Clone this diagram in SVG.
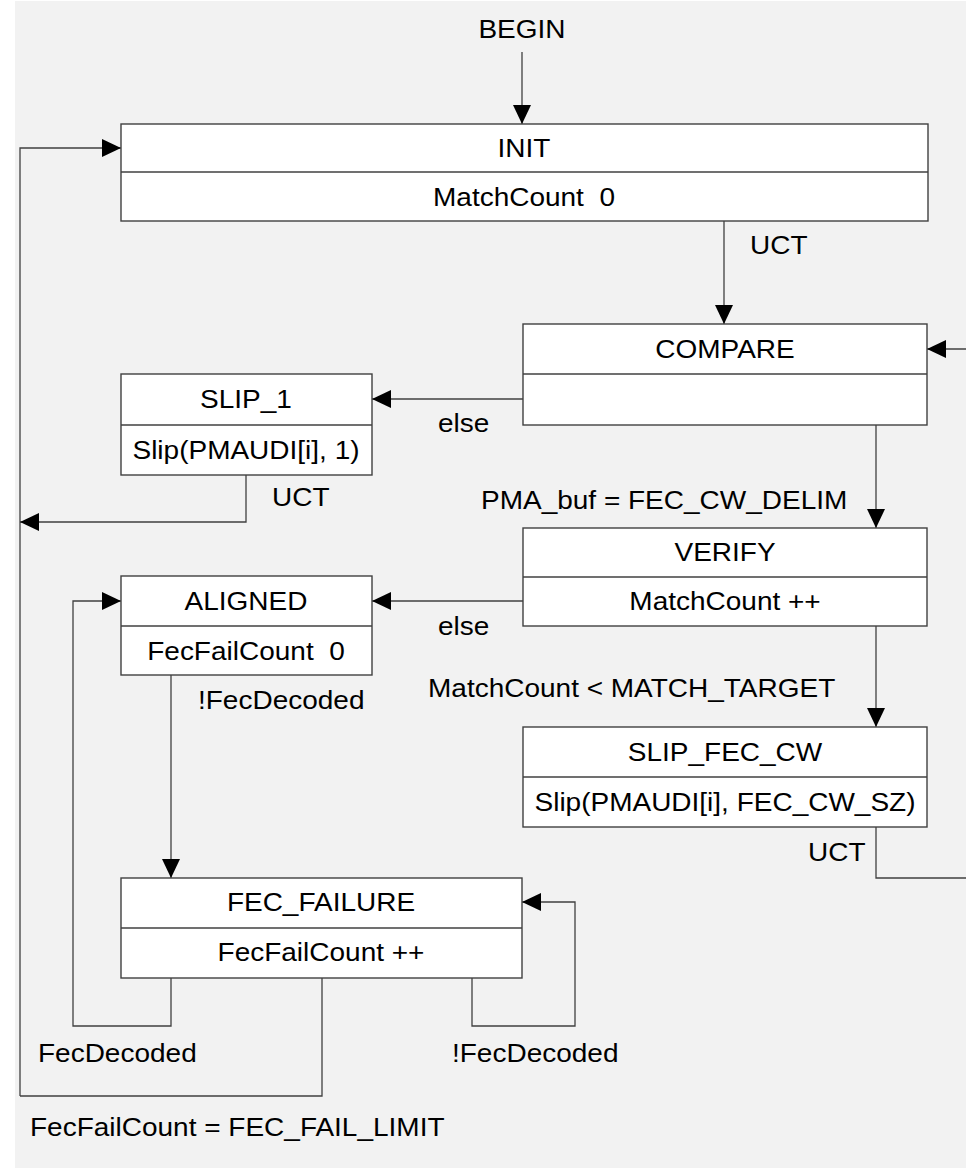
<svg xmlns="http://www.w3.org/2000/svg" width="966" height="1169" viewBox="0 0 966 1169">
<defs>
<style>
.bg{fill:#f2f2f2}
.box{fill:#fff;stroke:#404040;stroke-width:1.4}
.div{stroke:#404040;stroke-width:1.4;fill:none}
.ln{stroke:#404040;stroke-width:1.3;fill:none}
.arr{stroke:#404040;stroke-width:1.3;fill:none;marker-end:url(#ah)}
text{font-family:"Liberation Sans",Arial,sans-serif;font-size:25px;fill:#000}
.c{text-anchor:middle}
.s{text-anchor:start}
</style>
<marker id="ah" markerUnits="userSpaceOnUse" markerWidth="20" markerHeight="18" refX="19" refY="9" orient="auto">
<path d="M0,0 L19,9 L0,18 z" fill="#000"/>
</marker>
</defs>
<rect class="bg" x="15" y="1" width="951" height="1167"/>

<g id="connectors">
<path class="arr" d="M522,52 L522,124"/>
<path class="arr" d="M20,1096 L20,148 L121,148"/>
<path class="arr" d="M724,221 L724,324"/>
<path class="arr" d="M966,349 L927,349"/>
<path class="arr" d="M523,399 L372,399"/>
<path class="arr" d="M246,475 L246,522 L20,522"/>
<path class="arr" d="M876,425 L876,528"/>
<path class="arr" d="M523,601 L372,601"/>
<path class="arr" d="M876,626 L876,727"/>
<path class="ln" d="M876,827 L876,878 L966,878"/>
<path class="arr" d="M171,675 L171,878"/>
<path class="arr" d="M171,978 L171,1026 L73,1026 L73,601 L121,601"/>
<path class="arr" d="M472,978 L472,1026 L575,1026 L575,902 L522,902"/>
<path class="ln" d="M322,978 L322,1096 L20,1096"/>
<text class="c" transform="translate(522,38) scale(1.12,1)">BEGIN</text>
<text class="s" transform="translate(750,254) scale(1.12,1)">UCT</text>
<text class="s" transform="translate(438,432) scale(1.12,1)">else</text>
<text class="s" transform="translate(272,506) scale(1.12,1)">UCT</text>
<text class="s" transform="translate(481,509) scale(1.12,1)">PMA_buf = FEC_CW_DELIM</text>
<text class="s" transform="translate(438,635) scale(1.12,1)">else</text>
<text class="s" transform="translate(428,697) scale(1.12,1)">MatchCount &lt; MATCH_TARGET</text>
<text class="s" transform="translate(198,709) scale(1.12,1)">!FecDecoded</text>
<text class="s" transform="translate(808,861) scale(1.12,1)">UCT</text>
<text class="s" transform="translate(38,1062) scale(1.12,1)">FecDecoded</text>
<text class="s" transform="translate(452,1062) scale(1.12,1)">!FecDecoded</text>
<text class="s" transform="translate(30,1136) scale(1.12,1)">FecFailCount = FEC_FAIL_LIMIT</text>
</g>

<g id="INIT">
<rect class="box" x="121" y="124" width="807" height="97"/>
<path class="div" d="M121,172 L928,172"/>
<text class="c" transform="translate(524,157) scale(1.12,1)">INIT</text>
<text class="c" xml:space="preserve" transform="translate(524,206) scale(1.12,1)">MatchCount  0</text>
</g>

<g id="COMPARE">
<rect class="box" x="523" y="324" width="404" height="101"/>
<path class="div" d="M523,374 L927,374"/>
<text class="c" transform="translate(725,358) scale(1.12,1)">COMPARE</text>
</g>

<g id="SLIP_1">
<rect class="box" x="121" y="374" width="251" height="101"/>
<path class="div" d="M121,425 L372,425"/>
<text class="c" transform="translate(246,408) scale(1.12,1)">SLIP_1</text>
<text class="c" transform="translate(246,459) scale(1.12,1)">Slip(PMAUDI[i], 1)</text>
</g>

<g id="VERIFY">
<rect class="box" x="523" y="528" width="404" height="98"/>
<path class="div" d="M523,577 L927,577"/>
<text class="c" transform="translate(725,561) scale(1.12,1)">VERIFY</text>
<text class="c" transform="translate(725,610) scale(1.12,1)">MatchCount ++</text>
</g>

<g id="ALIGNED">
<rect class="box" x="121" y="576" width="251" height="99"/>
<path class="div" d="M121,626 L372,626"/>
<text class="c" transform="translate(246,610) scale(1.12,1)">ALIGNED</text>
<text class="c" xml:space="preserve" transform="translate(246,660) scale(1.12,1)">FecFailCount  0</text>
</g>

<g id="SLIP_FEC_CW">
<rect class="box" x="523" y="727" width="404" height="100"/>
<path class="div" d="M523,777 L927,777"/>
<text class="c" transform="translate(725,761) scale(1.12,1)">SLIP_FEC_CW</text>
<text class="c" transform="translate(725,811) scale(1.12,1)">Slip(PMAUDI[i], FEC_CW_SZ)</text>
</g>

<g id="FEC_FAILURE">
<rect class="box" x="121" y="878" width="401" height="100"/>
<path class="div" d="M121,928 L522,928"/>
<text class="c" transform="translate(321,911) scale(1.12,1)">FEC_FAILURE</text>
<text class="c" transform="translate(321,961) scale(1.12,1)">FecFailCount ++</text>
</g>
</svg>
